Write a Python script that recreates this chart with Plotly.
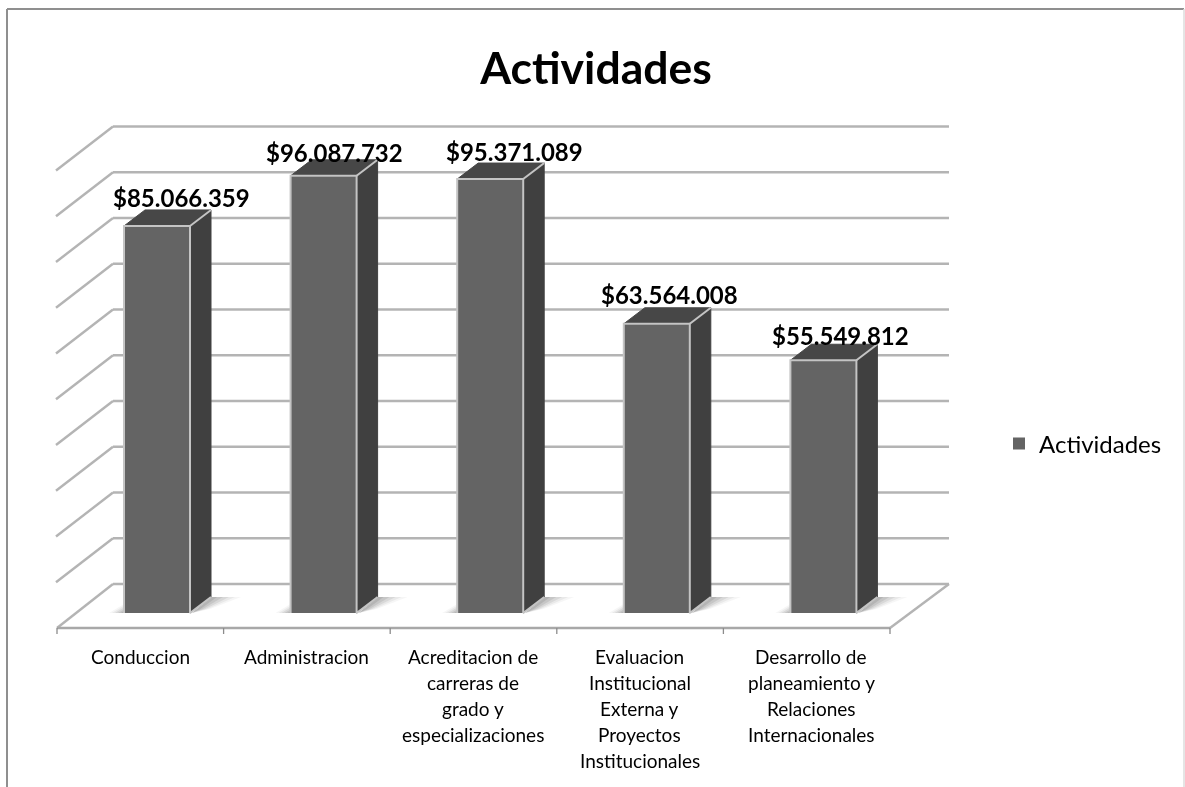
import plotly.graph_objects as go

# ---- data ----
categories = [
    ["Conduccion"],
    ["Administracion"],
    ["Acreditacion de", "carreras de", "grado y", "especializaciones"],
    ["Evaluacion", "Institucional", "Externa y", "Proyectos", "Institucionales"],
    ["Desarrollo de", "planeamiento y", "Relaciones", "Internacionales"],
]
values = [85066359, 96087732, 95371089, 63564008, 55549812]
value_labels = ["$85.066.359", "$96.087.732", "$95.371.089", "$63.564.008", "$55.549.812"]
series_name = "Actividades"
grid_values = [v * 10_000_000 for v in range(0, 11)]

# ---- geometry of the pseudo-3D box ----
W, H = 1185, 787
PX_PER_CAT = 166.6
X0_PX = 140.0           # pixel of category 0
Y0_PX = 613.0           # pixel of value 0 on the bars' front plane
PX_PER_VAL = 4.55e-6
WALL_SCALE = 1.0055     # the back wall is drawn very slightly larger than the bars' plane

def dx(px):
    return px / PX_PER_CAT

def dy(px):
    return px / PX_PER_VAL

x_range = [-X0_PX / PX_PER_CAT, (W - X0_PX) / PX_PER_CAT]
y_range = [(Y0_PX - H) / PX_PER_VAL, Y0_PX / PX_PER_VAL]

bar_shift = dx(17)
bar_width = dx(66)
bar_dx, bar_dy = dx(21), dy(16)
front_left, front_right = dx(57 - X0_PX), dx(890 - X0_PX)
wall_dx, wall_dy = dx(56), dy(44)
floor_front = dy(Y0_PX - 628)
wall_base = dy(Y0_PX - 584)
tick_len = dy(6)

GRID = "#b4b4b4"
EDGE = "#c4c4c4"
FRONT, SIDE, TOP = "#646464", "#404040", "#474747"

label_dx_px = [24, 11, 24, 13, 17]
label_gap_px = [28, 23, 28, 29, 25]
category_dx_px = [0, 0, 0, 0, 5]

shapes = []

def line(x0, y0, x1, y1, color=GRID, width=2.4):
    shapes.append(dict(type="line", x0=x0, y0=y0, x1=x1, y1=y1, layer="below",
                       line=dict(color=color, width=width)))

# wall grid lines
back_left = front_left + wall_dx
back_right = front_right + dx(59)
for g in grid_values:
    yb = wall_base + g * WALL_SCALE
    line(back_left, yb, back_right, yb)
    if g > 0:
        line(back_left, yb, back_left - dx(57), yb - wall_dy)
# floor
line(front_left, floor_front, back_left, wall_base)
line(front_right, floor_front, back_right, wall_base)
line(front_left, floor_front, front_right, floor_front, color="#a8a8a8")
for k in range(len(values) + 1):
    xt = front_left + k * (front_right - front_left) / len(values)
    line(xt, floor_front, xt, floor_front - tick_len, color="#8c8c8c", width=1.3)

# floor shadows
for i in range(len(values)):
    xl = i + bar_shift - bar_width / 2
    xr = i + bar_shift + bar_width / 2
    for grow, alpha in ((30, 0.05), (24, 0.07), (18, 0.1), (12, 0.12), (6, 0.14)):
        path = "M {} {} L {} {} L {} {} L {} {} Z".format(
            xr + dx(2), 0, xr + bar_dx, bar_dy,
            xr + bar_dx + dx(grow), bar_dy, xr + dx(8 + grow * 0.4), dy(4))
        shapes.append(dict(type="path", path=path, layer="below", line=dict(width=0),
                           fillcolor=f"rgba(70,70,70,{alpha})"))
        path = "M {} {} L {} {} L {} {} Z".format(
            xl, 0, xl, dy(grow * 0.3), xl - dx(grow * 0.5), 0)
        shapes.append(dict(type="path", path=path, layer="below", line=dict(width=0),
                           fillcolor=f"rgba(70,70,70,{alpha})"))

# chart frame
frame = "#8f8f8f"
for x0, y0, x1, y1, c, w in [(7, 9, 7, H, frame, 2), (7, 9, 1184, 9, frame, 2.2), (1184, 9, 1184, H, "#dcdcdc", 1.5)]:
    shapes.append(dict(type="line", xref="paper", yref="paper", x0=x0 / W, x1=x1 / W,
                       y0=1 - y0 / H, y1=1 - y1 / H, line=dict(color=c, width=w)))

fig = go.Figure()

# bar front faces
fig.add_trace(go.Bar(
    x=[i + bar_shift for i in range(len(values))], y=values, width=bar_width,
    name=series_name, marker=dict(color=FRONT, line=dict(width=0)),
    showlegend=True, hoverinfo="skip",
))

# bar side and top faces
for i, v in enumerate(values):
    xl = i + bar_shift - bar_width / 2
    xr = i + bar_shift + bar_width / 2
    fig.add_trace(go.Scatter(
        x=[xr, xr + bar_dx, xr + bar_dx, xr, xr], y=[0, bar_dy, v + bar_dy, v, 0],
        mode="lines", fill="toself", fillcolor=SIDE, line=dict(color=SIDE, width=1),
        showlegend=False, hoverinfo="skip"))
    fig.add_trace(go.Scatter(
        x=[xl, xl + bar_dx, xr + bar_dx, xr, xl], y=[v, v + bar_dy, v + bar_dy, v, v],
        mode="lines", fill="toself", fillcolor=TOP, line=dict(color=TOP, width=1),
        showlegend=False, hoverinfo="skip"))
    fig.add_trace(go.Scatter(
        x=[xl, xl, xr, xr, xr + bar_dx], y=[0, v, v, 0, bar_dy], mode="lines",
        line=dict(color=EDGE, width=2), showlegend=False, hoverinfo="skip"))
    fig.add_trace(go.Scatter(
        x=[xr, xr + bar_dx], y=[v, v + bar_dy], mode="lines",
        line=dict(color=EDGE, width=2), showlegend=False, hoverinfo="skip"))

annotations = []
# value labels
for i, (v, t) in enumerate(zip(values, value_labels)):
    annotations.append(dict(
        x=i + bar_shift, y=v, text=f"<b>{t}</b>", showarrow=False, xshift=label_dx_px[i], yshift=label_gap_px[i],
        xanchor="center", yanchor="middle", font=dict(family="Lato", size=24, color="#000000")))
# category labels, one per line
for i, lines in enumerate(categories):
    for j, ln in enumerate(lines):
        annotations.append(dict(
            x=i, y=floor_front, text=ln, showarrow=False, xanchor="center", yanchor="middle",
            xshift=category_dx_px[i], yshift=-(28 + 26 * j),
            font=dict(family="Lato", size=19, color="#000000")))

fig.update_layout(
    width=W, height=H, margin=dict(l=0, r=0, t=0, b=0),
    paper_bgcolor="#ffffff", plot_bgcolor="rgba(0,0,0,0)",
    title=dict(text="<b>Actividades</b>", x=596 / W, xanchor="center", y=1 - 68 / H, yanchor="middle",
               font=dict(family="Lato", size=44.5, color="#000000")),
    xaxis=dict(range=x_range, visible=False, fixedrange=True),
    yaxis=dict(range=y_range, visible=False, fixedrange=True),
    legend=dict(x=999 / W, y=1 - 444 / H, xanchor="left", yanchor="middle",
                bgcolor="rgba(0,0,0,0)", font=dict(family="Lato", size=24, color="#000000"),
                itemwidth=30),
    shapes=shapes, annotations=annotations, barmode="overlay",
)

fig.write_html(
    "out.html",
    config={"displayModeBar": False},
    post_script="document.body.style.margin='0';document.body.style.overflow='hidden';"
                "document.querySelector('.plotly-graph-div').style.filter='blur(0.45px)';",
)
